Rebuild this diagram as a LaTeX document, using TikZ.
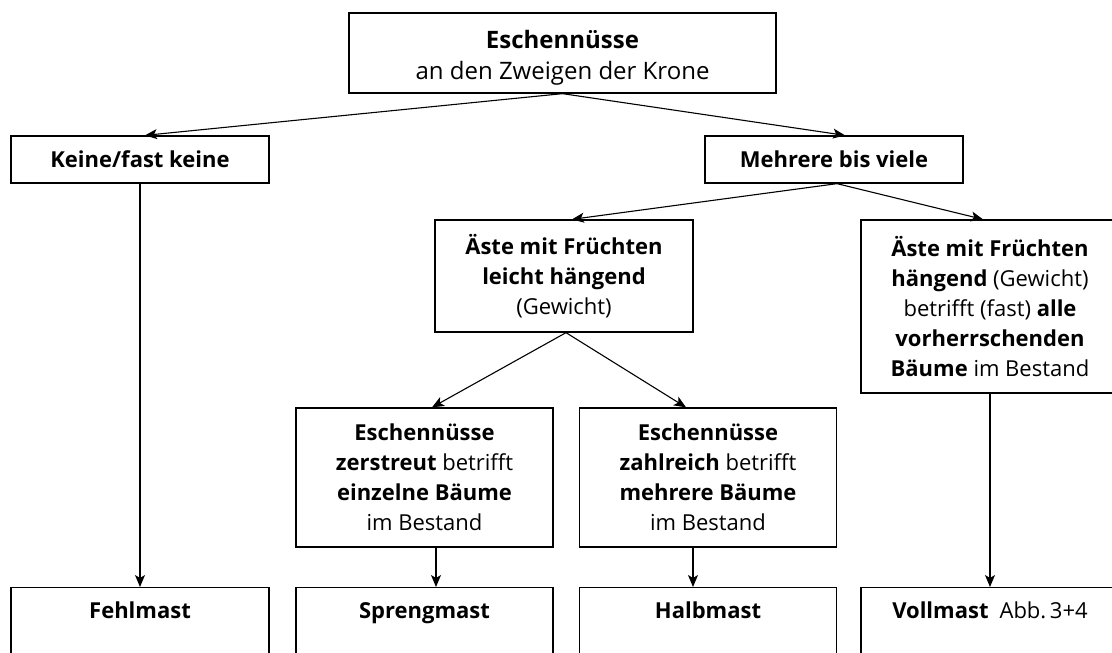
\documentclass[tikz,border=0pt]{standalone}
\usepackage{fontspec}
\setmainfont{Open Sans}
\usetikzlibrary{arrows.meta}
\tikzset{
  box/.style={draw, line width=1.3pt, minimum width=258pt, inner sep=0pt, align=center,
    font=\fontsize{22}{30}\selectfont},
  conn/.style={line width=1.1pt, -{Stealth[length=12pt,width=10pt,inset=3pt]}},
  bottxt/.style={anchor=base, font=\fontsize{22}{30}\selectfont},
}
\begin{document}
\begin{tikzpicture}[x=1pt,y=-1pt]
\clip (0,0) rectangle (1112,653);
\fill[white] (0,0) rectangle (1112,653);
% top
\node[box, minimum width=427pt, minimum height=80pt, font=\fontsize{24}{31}\selectfont] (top) at (562.5,53)
  {\rule{0pt}{28pt}\textbf{Eschennüsse}\\an den Zweigen der Krone};
\node[box, minimum height=47pt] (keine) at (140,159.5) {\bfseries Keine/fast keine};
\node[box, minimum height=47pt] (mehr) at (834,159.5) {\bfseries Mehrere bis viele};
\node[box, minimum height=112pt] (leicht) at (564,276)
  {\textbf{Äste mit Früchten}\\\textbf{leicht hängend}\\(Gewicht)};
\node[box, minimum height=173pt] (haeng) at (990,306.5)
  {\textbf{Äste mit Früchten}\\\textbf{hängend} (Gewicht)\\betrifft (fast) \textbf{alle}\\\textbf{vorherrschenden}\\\textbf{Bäume} im Bestand};
\node[box, minimum width=257pt, minimum height=139pt] (zer) at (424.5,477.5)
  {\textbf{Eschennüsse}\\\textbf{zerstreut} betrifft\\\textbf{einzelne Bäume}\\im Bestand};
\node[box, minimum width=257pt, minimum height=139pt] (zahl) at (708,477.5)
  {\textbf{Eschennüsse}\\\textbf{zahlreich} betrifft\\\textbf{mehrere Bäume}\\im Bestand};
% bottom boxes
\node[box, anchor=north, minimum height=120pt] (fehl) at (140,587) {};
\node[box, anchor=north, minimum width=257pt, minimum height=120pt] (spr) at (424.5,587) {};
\node[box, anchor=north, minimum width=257pt, minimum height=120pt] (halb) at (708,587) {};
\node[box, anchor=north, minimum height=120pt] (voll) at (990,587) {};
\node[bottxt] (fehlt) at ([yshift=-31pt]fehl.north) {\bfseries Fehlmast};
\node[bottxt] (sprt) at ([yshift=-31pt]spr.north) {\bfseries Sprengmast};
\node[bottxt] (halbt) at ([yshift=-31pt]halb.north) {\bfseries Halbmast};
\node[bottxt] (vollt) at ([yshift=-31pt]voll.north) {\textbf{Vollmast}\hspace{0.5em}Abb.\,3+4};
% connectors
\draw[conn] (top.south) -- ([xshift=5]keine.north);
\draw[conn] (top.south) -- ([xshift=11]mehr.north);
\draw[conn] ([xshift=3]mehr.south) -- ([xshift=8]leicht.north);
\draw[conn] ([xshift=3]mehr.south) -- ([xshift=-7]haeng.north);
\draw[conn] ([xshift=2]leicht.south) -- ([xshift=7.5]zer.north);
\draw[conn] ([xshift=2]leicht.south) -- ([xshift=-22]zahl.north);
\draw[conn] (keine.south) -- (fehl.north);
\draw[conn] ([xshift=11.5]zer.south) -- ([xshift=11.5]spr.north);
\draw[conn] ([xshift=-15]zahl.south) -- ([xshift=-15]halb.north);
\draw[conn] (haeng.south) -- (voll.north);
\end{tikzpicture}
\end{document}
